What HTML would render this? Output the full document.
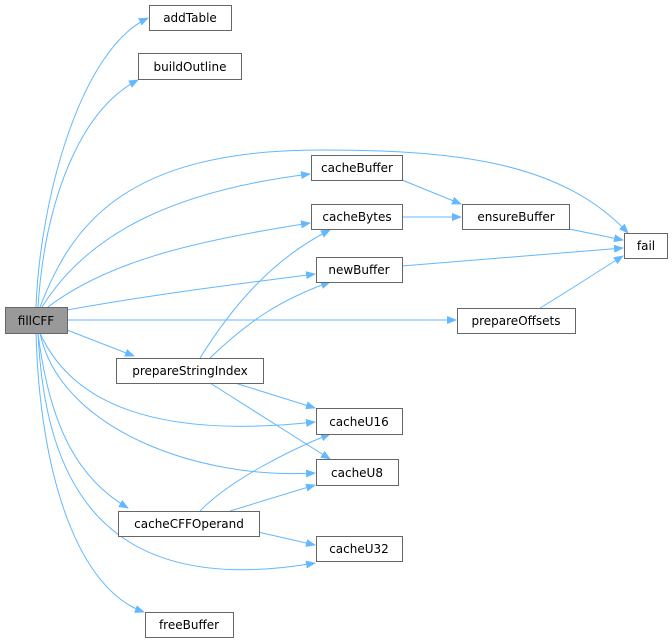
<html><body style="margin:0;background:#fff">
<svg width="672" height="643" xmlns="http://www.w3.org/2000/svg" font-family="DejaVu Sans, sans-serif" font-size="12">
<defs><marker id="a" markerWidth="10" markerHeight="8" refX="9" refY="4" orient="auto" markerUnits="userSpaceOnUse"><path d="M0,0 L10,4 L0,8 z" fill="#63b8ff"/></marker></defs>
<g fill="none" stroke="#63b8ff" stroke-width="1" marker-end="url(#a)">
<path d="M36,307 C40,200 80,50 148,18"/>
<path d="M38,307 C45,200 80,110 138,80"/>
<path d="M40,307 C70,230 120,150 320,150 C450,150 560,160 628,233"/>
<path d="M42,307 C90,230 180,190 310,174"/>
<path d="M48,307 C110,260 200,240 310,223"/>
<path d="M67,310 C150,295 230,285 315,274"/>
<path d="M68,320 L456,320"/>
<path d="M67,330 L134,356"/>
<path d="M40,333 C70,400 150,440 315,422"/>
<path d="M40,333 C60,430 200,480 315,473"/>
<path d="M38,333 C50,430 80,480 128,508"/>
<path d="M38,333 C45,480 100,600 315,563"/>
<path d="M36,333 C40,480 80,590 144,612"/>
<path d="M402,180 L461,204"/>
<path d="M402,217 L461,217"/>
<path d="M569,229 L623,240"/>
<path d="M402,266 L623,248"/>
<path d="M540,308 C570,290 600,270 623,256"/>
<path d="M200,358 C230,310 270,260 330,230"/>
<path d="M210,358 C250,320 280,300 330,282"/>
<path d="M235,383 L315,408"/>
<path d="M210,383 L330,459"/>
<path d="M200,511 C230,480 290,450 330,434"/>
<path d="M230,511 L315,485"/>
<path d="M258,532 L315,545"/>
</g>
<g stroke="#666" stroke-width="1" fill="#fff">
<rect x="5.5" y="307.5" width="62" height="26" fill="#999"/>
<rect x="149.5" y="5.5" width="82" height="25"/>
<rect x="138.5" y="53.5" width="103" height="26"/>
<rect x="311.5" y="155.5" width="91" height="25"/>
<rect x="311.5" y="204.5" width="91" height="25"/>
<rect x="462.5" y="204.5" width="107" height="25"/>
<rect x="624.5" y="233.5" width="43" height="25"/>
<rect x="316.5" y="257.5" width="86" height="25"/>
<rect x="457.5" y="308.5" width="118" height="25"/>
<rect x="116.5" y="358.5" width="147" height="25"/>
<rect x="316.5" y="408.5" width="86" height="26"/>
<rect x="316.5" y="459.5" width="82" height="26"/>
<rect x="118.5" y="511.5" width="141" height="25"/>
<rect x="316.5" y="536.5" width="86" height="25"/>
<rect x="145.5" y="612.5" width="88" height="25"/>
</g>
<g fill="#000" text-anchor="middle">
<text x="36" y="325">fillCFF</text>
<text x="190" y="22">addTable</text>
<text x="190" y="71">buildOutline</text>
<text x="357" y="172">cacheBuffer</text>
<text x="357" y="221">cacheBytes</text>
<text x="516" y="221">ensureBuffer</text>
<text x="646" y="250">fail</text>
<text x="359" y="274">newBuffer</text>
<text x="516" y="325">prepareOffsets</text>
<text x="190" y="375">prepareStringIndex</text>
<text x="359" y="426">cacheU16</text>
<text x="357" y="477">cacheU8</text>
<text x="189" y="528">cacheCFFOperand</text>
<text x="359" y="553">cacheU32</text>
<text x="189" y="629">freeBuffer</text>
</g>
</svg>
</body></html>
